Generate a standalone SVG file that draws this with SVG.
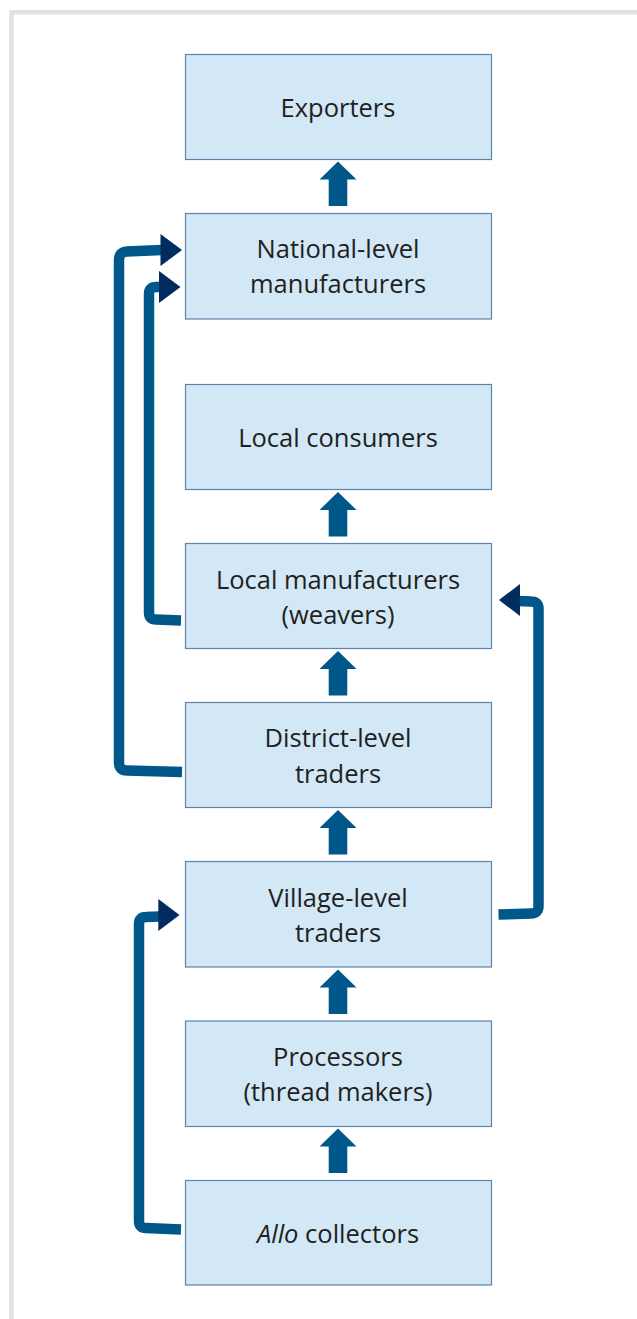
<svg xmlns="http://www.w3.org/2000/svg" width="637" height="1319" viewBox="0 0 637 1319">
<style>
.box{fill:#d2e8f6;stroke:#5f83aa;stroke-width:1.2}
.t{font-family:"Open Sans","Noto Sans",sans-serif;font-size:25.5px;fill:#231f20;text-anchor:middle}
.ln{fill:none;stroke:#00578a;stroke-width:10.5;stroke-linejoin:round}
.up{fill:#00578a}
.hd{fill:#002c5f}
</style>
<rect width="637" height="1319" fill="#ffffff"/>
<path d="M11.5 1319 V12.3 H637" fill="none" stroke="#e1e2e4" stroke-width="4.6"/>

<g id="exporters"><rect class="box" x="185.5" y="54.5" width="306" height="105"/><text class="t" x="338" y="117.3">Exporters</text></g>
<g id="national"><rect class="box" x="185.5" y="213.5" width="306" height="105.5"/><text class="t" x="338" y="258.3">National-level</text><text class="t" x="338" y="293.3">manufacturers</text></g>
<g id="consumers"><rect class="box" x="185.5" y="384.5" width="306" height="105"/><text class="t" x="338" y="447.3">Local consumers</text></g>
<g id="weavers"><rect class="box" x="185.5" y="543.5" width="306" height="105"/><text class="t" x="338" y="589.3">Local manufacturers</text><text class="t" x="338" y="623.5">(weavers)</text></g>
<g id="district"><rect class="box" x="185.5" y="702.5" width="306" height="105"/><text class="t" x="338" y="747.3">District-level</text><text class="t" x="338" y="782.5">traders</text></g>
<g id="village"><rect class="box" x="185.5" y="861.5" width="306" height="105.5"/><text class="t" x="338" y="906.5">Village-level</text><text class="t" x="338" y="941.5">traders</text></g>
<g id="processors"><rect class="box" x="185.5" y="1021" width="306" height="105.5"/><text class="t" x="338" y="1066">Processors</text><text class="t" x="338" y="1101">(thread makers)</text></g>
<g id="allo"><rect class="box" x="185.5" y="1180.5" width="306" height="104.5"/><text class="t" x="338" y="1243.3"><tspan font-style="italic">Allo</tspan> collectors</text></g>

<g id="connectors">
<polygon class="up" points="338,161.5 356.5,179.5 347.3,179.5 347.3,206 328.7,206 328.7,179.5 319.5,179.5"/>
<polygon class="up" points="338,492 356.5,510 347.3,510 347.3,536.5 328.7,536.5 328.7,510 319.5,510"/>
<polygon class="up" points="338,651 356.5,669 347.3,669 347.3,695.5 328.7,695.5 328.7,669 319.5,669"/>
<polygon class="up" points="338,810 356.5,828 347.3,828 347.3,854.5 328.7,854.5 328.7,828 319.5,828"/>
<polygon class="up" points="338,969.5 356.5,987.5 347.3,987.5 347.3,1014 328.7,1014 328.7,987.5 319.5,987.5"/>
<polygon class="up" points="338,1128.5 356.5,1146.5 347.3,1146.5 347.3,1173 328.7,1173 328.7,1146.5 319.5,1146.5"/>

<path class="ln" d="M182 772 L127 770.5 Q119 770.5 119 762.5 L119 260 Q119 252 127 251.5 L162 250"/>
<polygon class="hd" points="160.5,234 182,250 160.5,266"/>

<path class="ln" d="M181 620.5 L156 619.5 Q149 619.5 149 612.5 L149 294 Q149 287 156 287 L161 287"/>
<polygon class="hd" points="159,271 180.5,287 159,303"/>

<path class="ln" d="M181 1229.5 L146 1228 Q139 1228 139 1221 L139 924 Q139 917 146 917 L160 916.5"/>
<polygon class="hd" points="158.3,899 179.5,915 158.3,931"/>

<path class="ln" d="M498.5 914.5 L531 913.5 Q538.5 913.5 538.5 906 L538.5 608.5 Q538.5 601.5 531 601.5 L518 601"/>
<polygon class="hd" points="520,584 499,600 520,616"/>
</g>
</svg>
